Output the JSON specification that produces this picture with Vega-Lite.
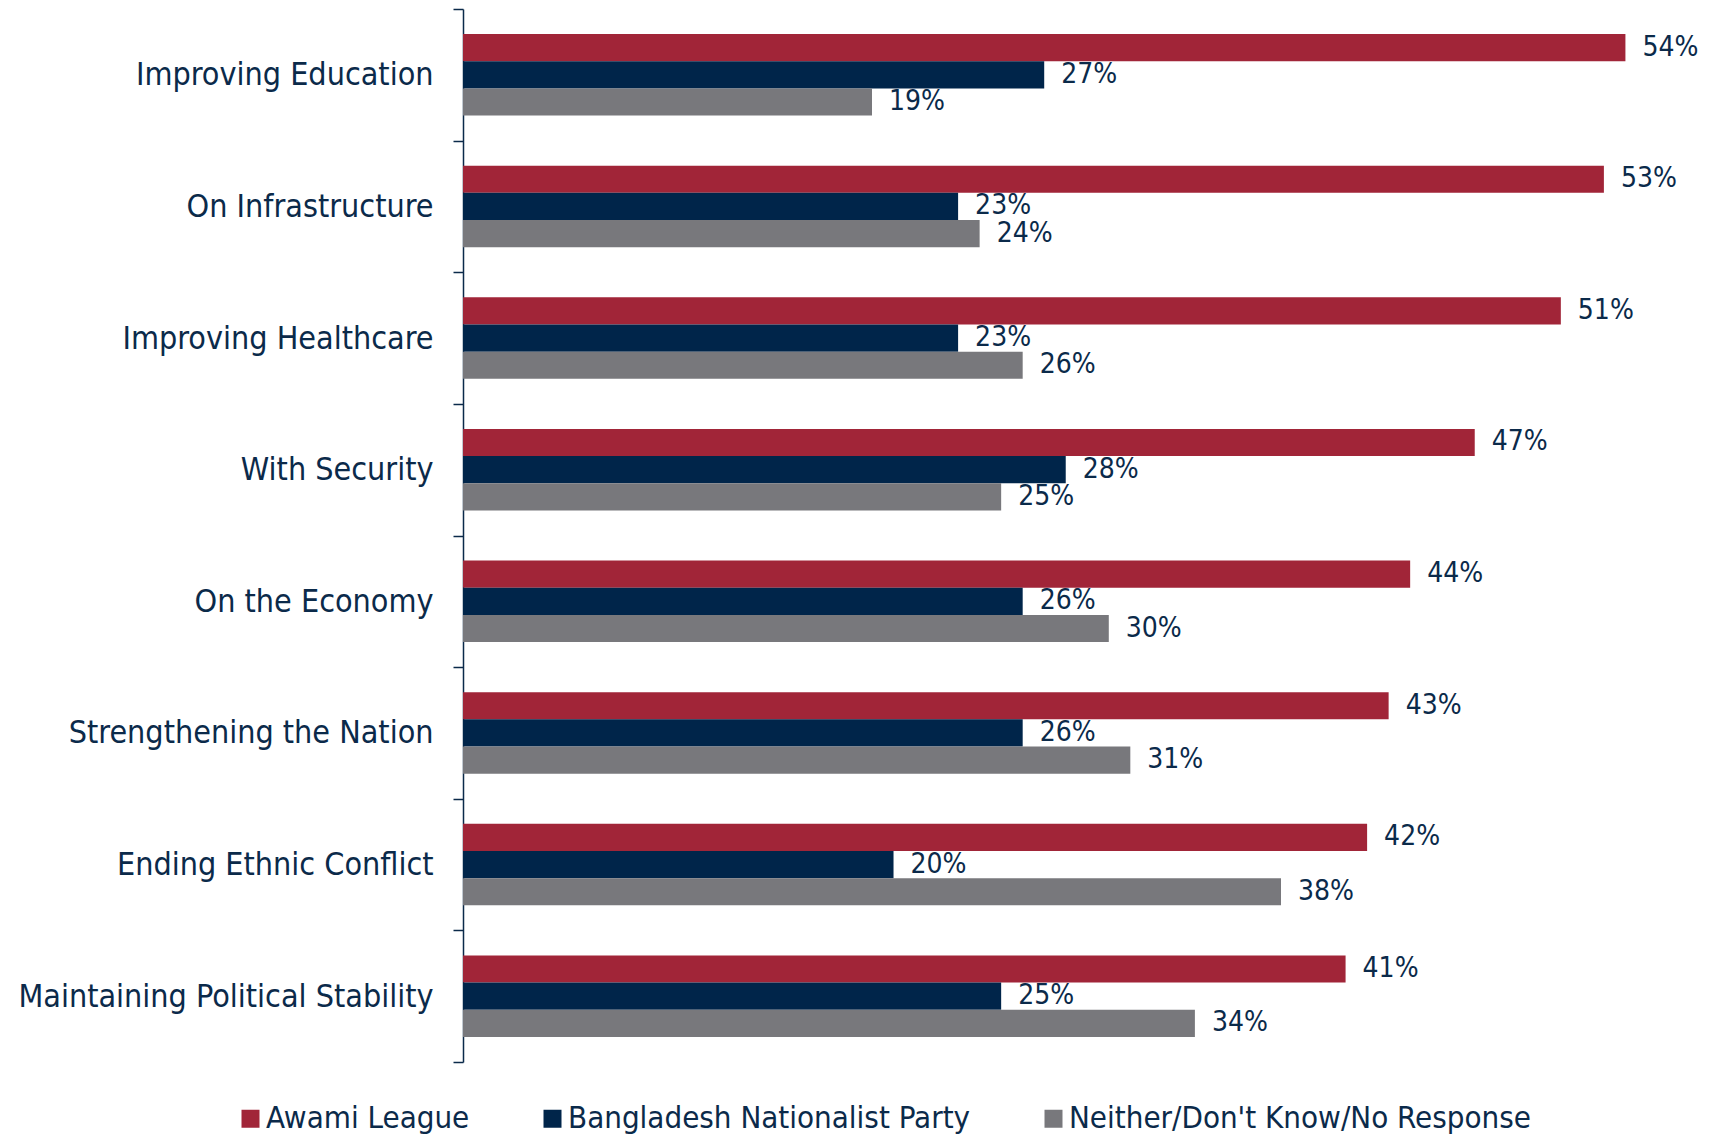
{
  "$schema": "https://vega.github.io/schema/vega-lite/v6.json",
  "width": 1227,
  "height": 1053,
  "autosize": {"type": "none"},
  "padding": {"left": 463, "top": 9, "right": 24, "bottom": 73},
  "background": "white",
  "config": {"view": {"stroke": null}, "font": "DejaVu Sans Condensed"},
  "data": {
    "values": [
      {"category": "Improving Education", "party": "Awami League", "value": 0.54},
      {"category": "Improving Education", "party": "Bangladesh Nationalist Party", "value": 0.27},
      {"category": "Improving Education", "party": "Neither/Don't Know/No Response", "value": 0.19},
      {"category": "On Infrastructure", "party": "Awami League", "value": 0.53},
      {"category": "On Infrastructure", "party": "Bangladesh Nationalist Party", "value": 0.23},
      {"category": "On Infrastructure", "party": "Neither/Don't Know/No Response", "value": 0.24},
      {"category": "Improving Healthcare", "party": "Awami League", "value": 0.51},
      {"category": "Improving Healthcare", "party": "Bangladesh Nationalist Party", "value": 0.23},
      {"category": "Improving Healthcare", "party": "Neither/Don't Know/No Response", "value": 0.26},
      {"category": "With Security", "party": "Awami League", "value": 0.47},
      {"category": "With Security", "party": "Bangladesh Nationalist Party", "value": 0.28},
      {"category": "With Security", "party": "Neither/Don't Know/No Response", "value": 0.25},
      {"category": "On the Economy", "party": "Awami League", "value": 0.44},
      {"category": "On the Economy", "party": "Bangladesh Nationalist Party", "value": 0.26},
      {"category": "On the Economy", "party": "Neither/Don't Know/No Response", "value": 0.30},
      {"category": "Strengthening the Nation", "party": "Awami League", "value": 0.43},
      {"category": "Strengthening the Nation", "party": "Bangladesh Nationalist Party", "value": 0.26},
      {"category": "Strengthening the Nation", "party": "Neither/Don't Know/No Response", "value": 0.31},
      {"category": "Ending Ethnic Conflict", "party": "Awami League", "value": 0.42},
      {"category": "Ending Ethnic Conflict", "party": "Bangladesh Nationalist Party", "value": 0.20},
      {"category": "Ending Ethnic Conflict", "party": "Neither/Don't Know/No Response", "value": 0.38},
      {"category": "Maintaining Political Stability", "party": "Awami League", "value": 0.41},
      {"category": "Maintaining Political Stability", "party": "Bangladesh Nationalist Party", "value": 0.25},
      {"category": "Maintaining Political Stability", "party": "Neither/Don't Know/No Response", "value": 0.34}
    ]
  },
  "encoding": {
    "y": {
      "field": "category",
      "type": "nominal",
      "sort": ["Improving Education", "On Infrastructure", "Improving Healthcare", "With Security", "On the Economy", "Strengthening the Nation", "Ending Ethnic Conflict", "Maintaining Political Stability"],
      "scale": {"paddingInner": 0, "paddingOuter": 0},
      "axis": {
        "title": null,
        "tickBand": "extent",
        "domainColor": "#0B2A4A",
        "tickColor": "#0B2A4A",
        "domainWidth": 1.5,
        "tickWidth": 1.5,
        "tickSize": 10,
        "labelPadding": 20,
        "labelFontSize": 32,
        "labelColor": "#0B2A4A",
        "labelFont": "DejaVu Sans Condensed",
        "labelLimit": 0
      }
    },
    "yOffset": {
      "field": "party",
      "type": "nominal",
      "sort": ["Awami League", "Bangladesh Nationalist Party", "Neither/Don't Know/No Response"],
      "scale": {"paddingInner": 0, "paddingOuter": 0.919}
    },
    "x": {
      "field": "value",
      "type": "quantitative",
      "scale": {"domain": [0, 0.57], "nice": false, "zero": true},
      "axis": null
    }
  },
  "layer": [
    {
      "mark": {"type": "bar"},
      "encoding": {
        "color": {
          "field": "party",
          "type": "nominal",
          "sort": ["Awami League", "Bangladesh Nationalist Party", "Neither/Don't Know/No Response"],
          "scale": {
            "domain": ["Awami League", "Bangladesh Nationalist Party", "Neither/Don't Know/No Response"],
            "range": ["#A12538", "#00254A", "#78787C"]
          },
          "legend": {
            "title": null,
            "orient": "none",
            "legendX": -228,
            "legendY": 1094,
            "direction": "horizontal",
            "symbolType": "square",
            "symbolSize": 324,
            "symbolStrokeWidth": 0,
            "symbolOpacity": 1,
            "labelFontSize": 31,
            "labelColor": "#0B2A4A",
            "labelFont": "DejaVu Sans Condensed",
            "labelOffset": 0,
            "labelLimit": 0,
            "columnPadding": 67
          }
        }
      }
    },
    {
      "mark": {"type": "text", "align": "left", "baseline": "middle", "dx": 17, "fontSize": 28, "color": "#0B2A4A", "font": "DejaVu Sans Condensed"},
      "encoding": {
        "text": {"field": "value", "type": "quantitative", "format": ".0%"}
      }
    }
  ]
}
